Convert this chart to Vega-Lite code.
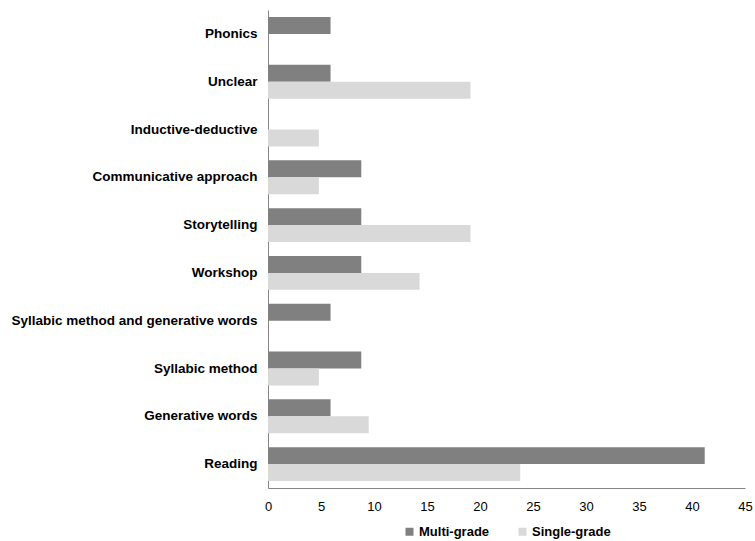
{
  "$schema": "https://vega.github.io/schema/vega-lite/v6.json",
  "width": 477,
  "height": 478,
  "autosize": {"type": "none"},
  "padding": {"left": 268, "top": 10, "right": 10, "bottom": 53},
  "background": "white",
  "config": {
    "view": {"stroke": null},
    "font": "Liberation Sans",
    "legend": {"layout": {"bottom": {"anchor": "middle"}}}
  },
  "data": {
    "values": [
      {"strategy": "Phonics", "grade": "Multi-grade", "value": 5.9},
      {"strategy": "Phonics", "grade": "Single-grade", "value": 0},
      {"strategy": "Unclear", "grade": "Multi-grade", "value": 5.9},
      {"strategy": "Unclear", "grade": "Single-grade", "value": 19.1},
      {"strategy": "Inductive-deductive", "grade": "Multi-grade", "value": 0},
      {"strategy": "Inductive-deductive", "grade": "Single-grade", "value": 4.8},
      {"strategy": "Communicative approach", "grade": "Multi-grade", "value": 8.8},
      {"strategy": "Communicative approach", "grade": "Single-grade", "value": 4.8},
      {"strategy": "Storytelling", "grade": "Multi-grade", "value": 8.8},
      {"strategy": "Storytelling", "grade": "Single-grade", "value": 19.1},
      {"strategy": "Workshop", "grade": "Multi-grade", "value": 8.8},
      {"strategy": "Workshop", "grade": "Single-grade", "value": 14.3},
      {"strategy": "Syllabic method and generative words", "grade": "Multi-grade", "value": 5.9},
      {"strategy": "Syllabic method and generative words", "grade": "Single-grade", "value": 0},
      {"strategy": "Syllabic method", "grade": "Multi-grade", "value": 8.8},
      {"strategy": "Syllabic method", "grade": "Single-grade", "value": 4.8},
      {"strategy": "Generative words", "grade": "Multi-grade", "value": 5.9},
      {"strategy": "Generative words", "grade": "Single-grade", "value": 9.5},
      {"strategy": "Reading", "grade": "Multi-grade", "value": 41.2},
      {"strategy": "Reading", "grade": "Single-grade", "value": 23.8}
    ]
  },
  "mark": {"type": "bar"},
  "encoding": {
    "y": {
      "field": "strategy",
      "type": "nominal",
      "sort": null,
      "scale": {"paddingInner": 0.29, "paddingOuter": 0.145},
      "axis": {
        "title": null,
        "ticks": false,
        "domainColor": "#868686",
        "domainWidth": 1,
        "labelFont": "Liberation Sans",
        "labelFontWeight": "bold",
        "labelFontSize": 13.5,
        "labelColor": "#000000",
        "labelPadding": 11,
        "labelLimit": 300
      }
    },
    "yOffset": {"field": "grade", "type": "nominal", "sort": ["Multi-grade", "Single-grade"]},
    "x": {
      "field": "value",
      "type": "quantitative",
      "scale": {"domain": [0, 45], "nice": false},
      "axis": {
        "title": null,
        "values": [0, 5, 10, 15, 20, 25, 30, 35, 40, 45],
        "grid": false,
        "ticks": false,
        "labelFlush": false,
        "domainColor": "#868686",
        "labelFont": "Liberation Sans",
        "labelFontSize": 13,
        "labelColor": "#000000",
        "labelPadding": 12
      }
    },
    "color": {
      "field": "grade",
      "type": "nominal",
      "scale": {"domain": ["Multi-grade", "Single-grade"], "range": ["#808080", "#d9d9d9"]},
      "legend": {
        "title": null,
        "orient": "bottom",
        "direction": "horizontal",
        "symbolType": "square",
        "symbolSize": 64,
        "symbolStrokeWidth": 0,
        "labelFont": "Liberation Sans",
        "labelFontWeight": "bold",
        "labelFontSize": 13,
        "labelColor": "#000000",
        "columnPadding": 26,
        "offset": 12,
        "labelOffset": 3
      }
    }
  }
}
